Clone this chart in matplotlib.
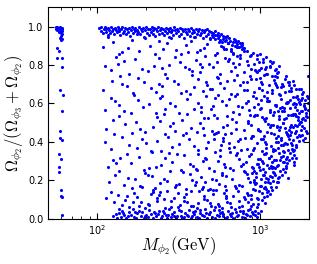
import matplotlib
matplotlib.use("Agg")
import matplotlib.pyplot as plt

plt.rcParams['mathtext.fontset'] = 'cm'

# light-mass cluster near M ~ 57-62 GeV
light = [(57,1.0),(58,.995),(59,.99),(60,.995),(56,.99),(61,.985),(57,.98),(59,.975),(60,.985),(58,.97),
         (61,.995),(56,1.0),(59,1.0),(60,.965),(61,.96),(60,.95),(59,.94),(61,.935),(60,.93),(58,.995),
         (57,.99),(61,.975),(57,.89),(58,.875),(57,.835),(61,.835),(61,.79),(59,.67),(62,.645),(61,.56),
         (59,.455),(59,.42),(61,.41),(58,.335),(60,.31),(58,.27),(58,.245),(60,.15),(60,.12),(61,.11),(61,.02)]

# top band (omega ~ 1)
top = [(103,.992),(105,.978),(106,.997),(108,.965),(110,.986),(111,.999),(113,.971),(114,.989),(116,.958),(117,.994),
       (119,.981),(120,.968),(122,.996),(124,.975),(125,.988),(127,.961),(129,.993),(130,.983),(132,.97),(134,.998),
       (136,.977),(137,.99),(139,.955),(141,.985),(143,.997),(145,.966),(147,.979),(149,.991),(151,.962),(153,.987),
       (155,.973),(157,.995),(159,.952),(161,.982),(163,.999),(166,.969),(168,.989),(170,.976),(172,.994),(175,.959),
       (177,.984),(179,.972),(182,.996),(184,.963),(187,.987),(189,.978),(192,.993),(194,.948),(197,.981),(200,.997),
       (202,.968),(205,.99),(208,.957),(211,.985),(213,.974),(216,.996),(219,.982),(222,.964),(225,.992),(228,.951),
       (231,.988),(234,.975),(237,.998),(240,.961),(243,.983),(247,.993),(250,.969),(253,.986),(257,.955),(260,.979),
       (264,.995),(267,.966),(271,.989),(275,.977),(278,.944),(282,.991),(286,.972),(290,.984),(294,.958),(298,.996),
       (302,.981),(306,.967),(310,.988),(315,.975),(319,.953),(323,.993),(328,.962),(332,.985),(337,.978),(341,.941),
       (346,.99),(351,.971),(356,.959),(361,.986),(366,.976),(371,.95),(376,.992),(381,.965),(387,.982),(392,.973),
       (398,.947),(403,.987),(409,.961),(415,.978),(421,.99),(427,.955),(433,.969),(439,.984),(445,.943),(451,.974),
       (458,.981),(464,.952),(471,.986),(477,.963),(484,.977),(491,.939),(498,.972),(505,.958),(512,.967),(519,.948),
       (527,.975),(534,.934),(542,.957),(550,.968),(557,.942),(565,.953),(573,.928),(581,.961),(590,.937),(598,.949),
       (607,.924),(615,.944),(624,.932),(633,.951),(642,.914),(651,.938),(660,.927),(670,.903),(680,.922),(690,.933),
       (700,.898),(710,.918),(720,.907),(730,.923),(741,.893),(752,.912),(763,.901),(774,.917),(785,.887)]

# bulk of the scan, in bands of omega
bulk_a = [(142,.071),(517,.128),(233,.093),(1105,.137),(176,.112),(389,.064),(812,.102),(121,.139),(267,.146),(655,.081),
          (198,.057),(452,.119),(973,.074),(312,.131),(149,.096),(731,.143),(564,.066),(241,.124),(1190,.148),(358,.087),
          (113,.105),(887,.121),(423,.142),(205,.078),(617,.109),(286,.059),(169,.133),(1032,.099),(497,.083),(341,.115),
          (776,.068),(134,.122),(258,.101),(931,.147),(602,.134),(187,.089),(409,.053),(1150,.126),(321,.072),(688,.117),
          (221,.138),(158,.061),(843,.088),(472,.097),(378,.144),(127,.084),(539,.149),(1068,.113),(297,.107),(213,.129)]
bulk_b = [(183,.171),(621,.223),(1274,.192),(256,.208),(137,.246),(448,.163),(892,.237),(319,.181),(1431,.244),(227,.157),
          (537,.199),(1012,.168),(154,.214),(372,.232),(745,.176),(118,.189),(281,.248),(1183,.219),(491,.152),(206,.229),
          (672,.204),(402,.177),(1366,.226),(163,.161),(849,.211),(339,.242),(245,.185),(585,.239),(1098,.154),(129,.227),
          (433,.216),(952,.183),(301,.166),(198,.238),(715,.158),(1490,.212),(523,.249),(268,.196),(147,.173),(803,.247),
          (383,.203),(1226,.236),(614,.169),(217,.221),(1047,.228),(461,.188),(172,.207),(353,.153),(925,.201),(564,.181)]
bulk_c = [(231,.268),(745,.312),(1466,.289),(152,.337),(404,.257),(1089,.344),(288,.296),(611,.271),(125,.304),(913,.262),
          (344,.329),(1672,.318),(193,.251),(527,.347),(1277,.276),(262,.318),(822,.293),(446,.301),(116,.269),(1538,.343),
          (685,.254),(217,.345),(1006,.308),(371,.283),(161,.292),(573,.325),(1183,.261),(309,.339),(138,.313),(879,.336),
          (485,.266),(1383,.327),(246,.279),(657,.349),(1612,.296),(182,.321),(419,.338),(955,.282),(326,.252),(770,.274),
          (1133,.316),(557,.298),(131,.287),(278,.342),(1338,.305),(207,.261),(469,.311),(719,.333),(391,.274),(1045,.259)]
bulk_d = [(176,.368),(598,.421),(1412,.387),(261,.443),(112,.398),(834,.362),(365,.414),(1756,.431),(213,.351),(482,.397),
          (1167,.446),(143,.427),(697,.375),(318,.389),(1021,.413),(538,.448),(234,.406),(1588,.364),(416,.359),(127,.442),
          (903,.432),(289,.372),(1293,.401),(644,.396),(188,.417),(451,.436),(1843,.408),(351,.445),(762,.356),(157,.381),
          (1094,.369),(520,.412),(271,.425),(1477,.438),(121,.362),(395,.378),(968,.394),(612,.441),(201,.393),(1236,.357),
          (336,.434),(811,.419),(1664,.383),(469,.366),(248,.353),(1351,.422),(164,.447),(735,.402),(1055,.428),(574,.385)]
bulk_e = [(219,.478),(671,.517),(1522,.463),(136,.534),(428,.496),(1199,.541),(303,.458),(889,.487),(1847,.522),(173,.503),
          (551,.451),(1031,.528),(257,.545),(376,.471),(1381,.499),(114,.468),(749,.546),(482,.526),(1692,.482),(196,.452),
          (631,.488),(977,.459),(332,.513),(1268,.475),(148,.492),(521,.538),(1937,.456),(279,.483),(842,.509),(409,.449),
          (1116,.494),(234,.529),(713,.467),(1594,.537),(126,.511),(359,.544),(1443,.453),(593,.476),(184,.469),(1066,.518),
          (451,.523),(929,.541),(291,.497),(1776,.504),(162,.548),(798,.462),(1320,.532),(507,.458),(245,.509),(1210,.486)]
bulk_f = [(192,.583),(644,.621),(1412,.576),(128,.611),(437,.557),(1068,.638),(281,.603),(861,.566),(1787,.619),(169,.642),
          (519,.589),(1227,.553),(243,.627),(392,.571),(972,.597),(111,.563),(729,.647),(1590,.598),(318,.551),(587,.613),
          (1902,.574),(207,.596),(469,.636),(1144,.611),(147,.558),(818,.604),(355,.624),(1329,.646),(263,.572),(688,.554),
          (1676,.633),(121,.629),(415,.601),(1014,.578),(551,.643),(229,.551),(1493,.607),(179,.617),(912,.639),(302,.588),
          (772,.579),(1253,.592),(498,.569),(137,.594),(1965,.626),(373,.649),(617,.591),(1102,.628),(251,.639),(1830,.561)]
bulk_g = [(213,.678),(691,.721),(1356,.687),(139,.741),(449,.662),(1034,.703),(297,.719),(832,.668),(1622,.694),(165,.656),
          (544,.737),(1189,.671),(252,.691),(381,.746),(951,.728),(108,.672),(753,.694),(1487,.713),(329,.653),(602,.682),
          (1275,.739),(195,.712),(471,.697),(1108,.658),(152,.689),(873,.744),(354,.664),(1741,.676),(268,.734),(665,.651),
          (1421,.726),(124,.718),(418,.729),(988,.681),(567,.706),(230,.661),(1552,.667),(178,.733),(789,.711),(315,.699),
          (722,.748),(1234,.704),(509,.674),(143,.702),(1846,.658),(395,.686),(631,.716),(1066,.749),(241,.703),(915,.659)]
bulk_h = [(188,.781),(634,.823),(1232,.772),(131,.843),(426,.761),(982,.818),(276,.802),(795,.764),(1314,.793),(158,.754),
          (518,.791),(1105,.754),(239,.837),(365,.778),(874,.846),(112,.796),(701,.787),(1043,.833),(322,.816),(571,.752),
          (1186,.808),(206,.768),(459,.849),(928,.776),(146,.819),(749,.806),(347,.792),(1276,.759),(262,.751),(607,.838),
          (1014,.786),(121,.774),(403,.827),(842,.799),(544,.814),(224,.795),(1156,.821),(172,.829),(667,.769),(301,.841),
          (487,.807),(961,.762),(381,.769),(135,.806),(1082,.781),(251,.784),(726,.845),(441,.788)]
bulk_i = [(181,.873),(597,.896),(903,.862),(126,.921),(411,.868),(772,.884),(267,.912),(683,.856),(154,.887),(496,.934),
          (228,.858),(352,.903),(839,.871),(109,.894),(637,.915),(305,.877),(546,.863),(198,.942),(451,.889),(142,.869),
          (725,.893),(379,.927),(253,.881),(586,.919),(117,.946),(329,.855),(961,.853),(472,.907),(212,.898),(663,.874),
          (396,.948),(164,.931),(529,.852),(284,.939),(805,.889),(137,.859),(431,.879),(239,.925),(619,.882),(361,.866)]

# points piled up near omega ~ 0
bottom = [(126,.012),(130,.024),(133,.003),(136,.031),(140,.008),(143,.042),(147,.017),(150,.001),(154,.011),(158,.036),
          (161,.021),(165,.048),(169,.006),(173,.002),(177,.027),(181,.039),(186,.013),(190,.033),(195,.004),(199,.019),
          (204,.009),(209,.046),(214,.023),(219,.001),(224,.034),(229,.014),(235,.026),(240,.041),(246,.003),(252,.011),
          (258,.029),(264,.018),(270,.002),(277,.049),(283,.007),(290,.022),(297,.032),(304,.004),(311,.012),(318,.043),
          (326,.016),(333,.001),(341,.009),(349,.028),(358,.021),(366,.047),(375,.003),(384,.013),(393,.024),(402,.038),
          (412,.008),(421,.002),(431,.031),(442,.017),(452,.011),(463,.051),(474,.004),(485,.022),(496,.035),(508,.007),
          (520,.044),(532,.002),(545,.019),(558,.012),(571,.029),(584,.053),(598,.016),(612,.003),(627,.009),(642,.039),
          (657,.023),(672,.031),(688,.001),(704,.048),(721,.014),(738,.021),(756,.042),(773,.008),(792,.027),(810,.004),
          (830,.018),(849,.046),(870,.011),(890,.033),(912,.022),(933,.041),(955,.009),(978,.028)]
low = [(137,.052),(152,.118),(171,.034),(189,.162),(208,.071),(226,.027),(244,.139),(263,.056),(286,.093),(307,.176),
       (329,.038),(354,.127),(378,.064),(403,.189),(429,.046),(457,.102),(488,.023),(519,.151),(553,.077),(588,.036),
       (624,.118),(663,.058),(702,.172),(744,.091),(789,.041),(836,.133),(884,.066),(935,.019),(981,.104),(166,.088),
       (198,.013),(232,.106),(271,.019),(315,.062),(362,.016),(414,.083),(468,.029),(527,.061),(594,.026),(667,.014),
       (741,.059),(821,.026),(904,.074),(145,.029),(181,.067),(219,.149),(254,.037),(296,.011),(343,.094),(391,.032),
       (442,.154),(498,.068),(561,.047),(632,.087),(711,.033),(798,.113),(872,.049),(958,.058),(1024,.039),(1071,.082)]

# dense region at heavy masses
heavy = [(850,.122),(905,.153),(960,.108),(1000,.171),(1030,.134),(1080,.193),(1120,.142),(1160,.184),(1200,.197),(1250,.166),
         (1020,.204),(940,.182),(880,.103),(1100,.117),(1300,.188),(990,.146),(1060,.158),(1180,.162),(870,.191),(1130,.207),
         (830,.231),(890,.268),(950,.219),(1005,.252),(1050,.287),(1095,.213),(1140,.263),(1190,.296),(1240,.228),(1290,.281),
         (1340,.247),(1400,.293),(1450,.272),(1520,.304),(1160,.224),(1210,.269),(1070,.241),(980,.286),(1320,.217),(1380,.258),
         (1110,.279),(920,.249),
         (860,.327),(920,.368),(980,.312),(1030,.354),(1090,.391),(1140,.318),(1200,.362),(1260,.398),(1320,.341),(1380,.383),
         (1440,.309),(1500,.357),(1560,.394),(1620,.332),(1680,.371),(1750,.402),(1230,.306),(1170,.377),(1290,.366),(1410,.348),
         (1590,.351),(1060,.336),(1350,.322),(1480,.387),
         (900,.428),(970,.469),(1040,.413),(1110,.452),(1180,.487),(1250,.421),(1320,.461),(1390,.497),(1460,.439),(1530,.478),
         (1600,.411),(1670,.458),(1740,.492),(1810,.433),(1880,.471),(1950,.447),(1350,.408),(1560,.451),(1700,.424),(1420,.473),
         (1640,.489),(1780,.462),(1270,.482),(1900,.419),(1490,.431),
         (920,.532),(1000,.571),(1080,.508),(1160,.553),(1240,.591),(1320,.517),(1400,.562),(1480,.603),(1560,.538),(1640,.582),
         (1720,.514),(1800,.559),(1870,.594),(1940,.527),(1990,.568),(1450,.522),(1610,.547),(1760,.598),(1530,.574),(1680,.534),
         (1830,.521),(1370,.583),(1910,.552),(1290,.561),
         (950,.628),(1030,.671),(1110,.612),(1190,.654),(1270,.687),(1350,.622),(1430,.661),(1510,.697),(1590,.633),(1670,.674),
         (1750,.609),(1830,.648),(1900,.619),(1960,.641),(1560,.682),(1700,.637),(1460,.606),(1620,.602),(1800,.676),(1390,.693),
         (880,.728),(950,.771),(1020,.712),(1090,.753),(1160,.788),(1230,.722),(1300,.763),(1370,.703),(1440,.741),(1520,.714),
         (1600,.718),(1970,.742),(1250,.779),
         (600,.883),(640,.912),(680,.861),(720,.894),(760,.838),(800,.872),(840,.823),(880,.851),(920,.804),(960,.832),
         (1000,.857),(1040,.813),(1090,.842),(1150,.793),(1200,.818),(650,.829),(700,.928),(780,.903),(560,.918),(620,.947),
         (530,.956),(580,.897)]
mid = [(412,.252),(463,.318),(521,.441),(587,.227),(648,.367),(712,.503),(786,.284),(851,.612),(923,.191),(998,.455),
       (1074,.338),(1153,.567),(1242,.263),(1334,.478),(1427,.392),(1531,.618),(1639,.447),(1752,.552),(437,.583),(492,.676),
       (556,.734),(621,.149),(689,.809),(759,.412),(834,.713),(905,.356),(982,.776),(1062,.229),(1141,.694),(1219,.438),
       (1307,.651),(1398,.296),(1486,.541),(1575,.382),(1673,.598),(1794,.503),(449,.471),(507,.205),(569,.356),(633,.533),
       (701,.641),(772,.168),(843,.497),(917,.579),(993,.681),(1071,.398),(1152,.478),(1236,.745),(1326,.577),(1415,.518),
       (1508,.662),(1612,.281),(1724,.624),(1862,.587),(428,.803),(481,.151),(542,.522),(603,.283),(669,.447),(737,.589),
       (808,.243),(879,.421),(958,.539),(1039,.302),(1121,.614),(1203,.353),(1289,.431),(1372,.562),(1461,.323),(1553,.489),
       (1649,.546),(1743,.437),(1887,.512),(1978,.603),(466,.713),(528,.627),(591,.403),(659,.261),(724,.344),(796,.672),
       (867,.538),(941,.235),(1019,.617),(1096,.526),(1175,.272),(1263,.585),(1352,.382),(1442,.601),(1528,.437),(1627,.355),
       (1718,.531),(1821,.482),(1926,.534),(1002,.734),(1093,.788),(1187,.741),(887,.781),(752,.852),(663,.882),(1258,.698),
       (1117,.189),(1213,.243),(1302,.214),(987,.271),(1164,.327),(1264,.304),(1385,.351),(1503,.412),(1602,.476),(1702,.567),
       (1811,.628),(1899,.571),(1441,.264),(1568,.318),(1069,.164)]

groups = [light, top, bulk_a, bulk_b, bulk_c, bulk_d, bulk_e, bulk_f, bulk_g, bulk_h, bulk_i,
          bottom, low, heavy, mid]

fig = plt.figure(figsize=(3.17, 2.64), dpi=100)
ax = fig.add_axes([0.152, 0.172, 0.822, 0.800])

for group in groups:
    m, om = zip(*group)
    ax.scatter(m, om, s=5, c='b', marker='o', linewidths=0)

ax.set_xscale('log')
ax.set_xlim(50, 2000)
ax.set_ylim(0, 1.1)
ax.set_yticks([0.0, 0.2, 0.4, 0.6, 0.8, 1.0])

ax.tick_params(which='both', direction='in', top=True, right=True, labelsize=7)
ax.tick_params(which='major', length=4)
ax.tick_params(which='minor', length=2)

ax.set_xlabel(r'$M_{\phi_2}(\mathrm{GeV})$', fontsize=12, labelpad=-2)
ax.set_ylabel(r'$\Omega_{\phi_2}/(\Omega_{\phi_3}+\Omega_{\phi_2})$', fontsize=12, labelpad=2)

fig.savefig('out.png', dpi=100)
